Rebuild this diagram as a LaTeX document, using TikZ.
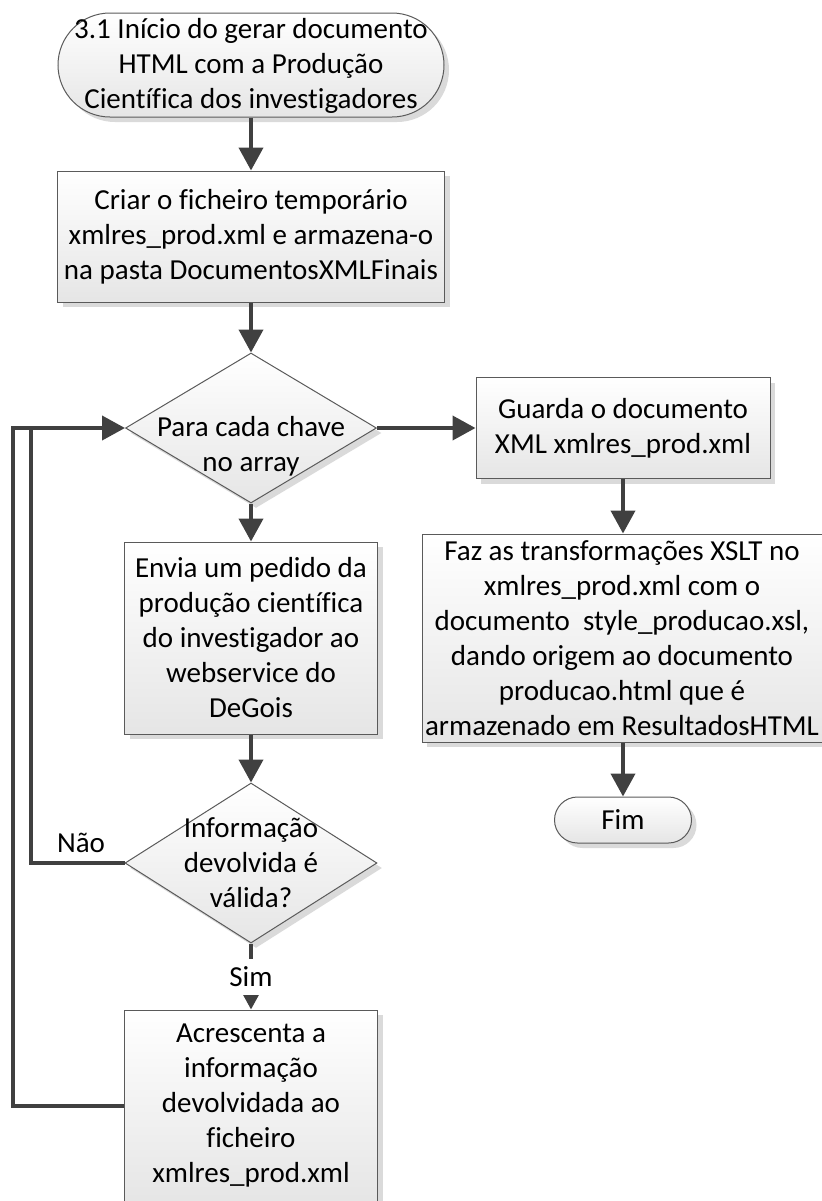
\documentclass[tikz,border=0pt]{standalone}
\usepackage{fontspec}
\setmainfont[Ligatures=NoCommon]{Carlito}
\usetikzlibrary{shapes.geometric,shadows,arrows.meta}
\definecolor{linecol}{HTML}{404040}
\definecolor{bordercol}{HTML}{5A5A5A}
\definecolor{shadowcol}{HTML}{DADADA}
\tikzset{
  shapebase/.style={draw=bordercol, line width=0.5pt, top color=white, bottom color=black!10,
    drop shadow={shadow xshift=2.5pt, shadow yshift=-2.5pt, fill=shadowcol, opacity=1}},
  procbox/.style={shapebase, rectangle, inner sep=0pt, align=center,
    font=\fontsize{14.5}{17.5}\selectfont},
  decis/.style={shapebase, diamond, inner sep=0pt},
  termin/.style={shapebase, rectangle, inner sep=0pt},
  txt/.style={align=center, inner sep=0pt, font=\fontsize{14.5}{17.5}\selectfont},
  conn/.style={draw=linecol, line width=2pt, line join=miter},
  arr/.style={conn, -{Triangle[length=11.5pt,width=12pt]}},
}
\begin{document}
\begin{tikzpicture}[x=0.5pt,y=-0.5pt]
\useasboundingbox (0,0) rectangle (822,1201);
% nodes
\node[termin, minimum width=193pt, minimum height=52pt, rounded corners=26pt] (start) at (251,65) {};
\node[txt] (starttxt) at (251,66) {3.1 Início do gerar documento\\HTML com a Produção\\Científica dos investigadores};
\node[procbox, minimum width=193.5pt, minimum height=65.5pt] (b1) at (251,236.5)
  {Criar o ficheiro temporário\\xmlres\_prod.xml e armazena-o\\na pasta DocumentosXMLFinais};
\node[decis, minimum width=125.5pt, minimum height=75pt] (d1) at (251,428) {};
\node[txt] (d1txt) at (251,446) {Para cada chave\\no array};
\node[procbox, minimum width=126.5pt, minimum height=96pt] (b2) at (251,638)
  {Envia um pedido da\\produção científica\\do investigador ao\\webservice do\\DeGois};
\node[decis, minimum width=126pt, minimum height=80pt] (d2) at (251,863) {};
\node[txt] (d2txt) at (251,863) {Informação\\devolvida é\\válida?};
\node[procbox, minimum width=126.5pt, minimum height=96pt] (b3) at (251,1106)
  {Acrescenta a\\informação\\devolvidada ao\\ficheiro\\xmlres\_prod.xml};
\node[procbox, minimum width=147pt, minimum height=50.5pt] (r1) at (623,428)
  {Guarda o documento\\XML xmlres\_prod.xml};
\node[procbox, minimum width=200pt, minimum height=104pt] (r2) at (622,638)
  {Faz as transformações XSLT no\\xmlres\_prod.xml com o\\documento\ \ style\_producao.xsl,\\dando origem ao documento\\producao.html que é\\armazenado em ResultadosHTML};
\node[termin, minimum width=68.5pt, minimum height=23pt, rounded corners=11.5pt, font=\fontsize{14.5}{17.5}\selectfont] (fim) at (623,820) {Fim};
\node[txt] (nao) at (81,843) {Não};
% coordinates for loops
\coordinate (outerbot) at (13,1106);
\coordinate (outertop) at (13,428);
\coordinate (innerbot) at (31,863);
\coordinate (innertop) at (31,428);
% connectors
\draw[arr] (start) -- (b1);
\draw[arr] (b1) -- (d1);
\draw[arr] (d1) -- (b2);
\draw[arr] (b2) -- (d2);
\draw[arr] (d2.south) -- node[fill=white, inner sep=0pt, minimum height=18pt, font=\fontsize{14.5}{17.5}\selectfont] (sim) {Sim} (b3.north);
\draw[arr] (d1.east) -- (r1.west);
\draw[arr] (r1.south) -- (r1.south |- r2.north);
\draw[arr] (fim.north |- r2.south) -- (fim.north);
\draw[conn] (d2.west) -- (innerbot) -- (innertop);
\draw[arr] (b3.west) -- (outerbot) -- (outertop) -- (d1.west);
\end{tikzpicture}
\end{document}
